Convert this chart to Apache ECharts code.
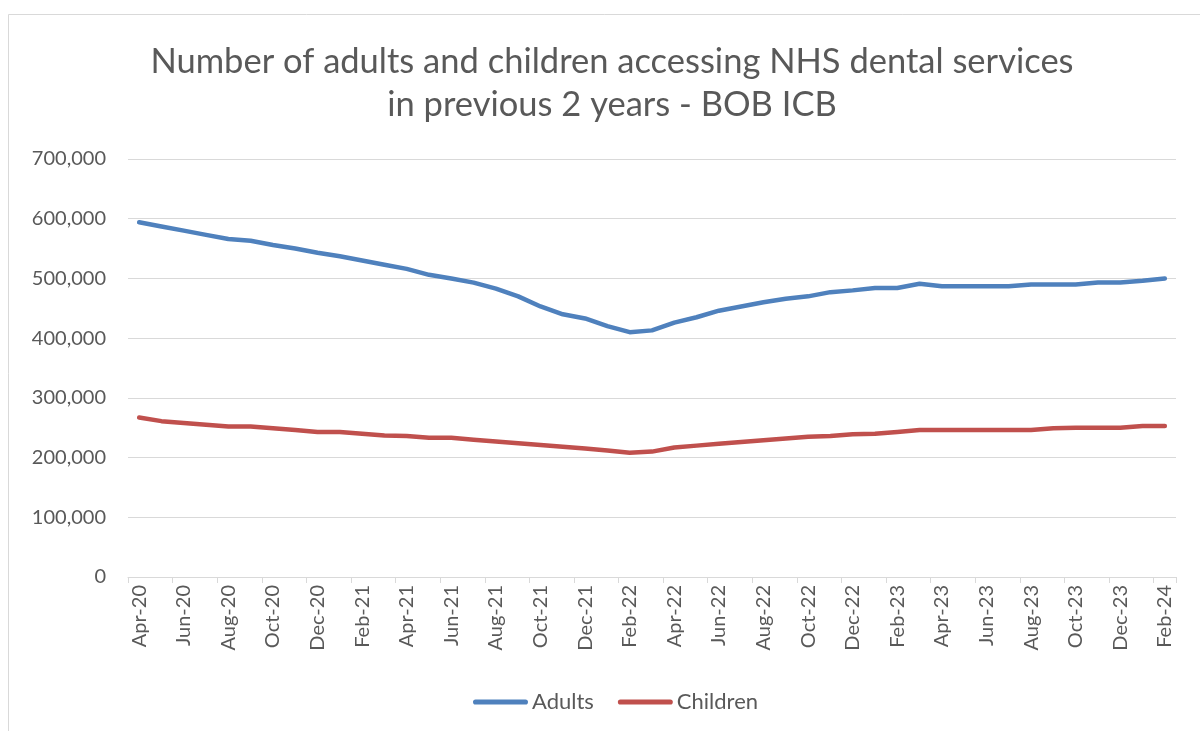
<!DOCTYPE html>
<html><head><meta charset="utf-8">
<script src="https://cdn.jsdelivr.net/npm/echarts@6/dist/echarts.min.js"></script>
<style>html,body{margin:0;padding:0;background:#fff}#c{width:1200px;height:731px}</style>
</head><body><div id="c"></div>
<script>
const months = ["Apr-20","May-20","Jun-20","Jul-20","Aug-20","Sep-20","Oct-20","Nov-20","Dec-20",
"Jan-21","Feb-21","Mar-21","Apr-21","May-21","Jun-21","Jul-21","Aug-21","Sep-21","Oct-21","Nov-21","Dec-21",
"Jan-22","Feb-22","Mar-22","Apr-22","May-22","Jun-22","Jul-22","Aug-22","Sep-22","Oct-22","Nov-22","Dec-22",
"Jan-23","Feb-23","Mar-23","Apr-23","May-23","Jun-23","Jul-23","Aug-23","Sep-23","Oct-23","Nov-23","Dec-23",
"Jan-24","Feb-24"];
const adults = [594000,587000,580000,573000,566000,563000,556000,550000,543000,
537000,530000,523000,516000,506000,500000,493000,483000,470000,453000,440000,433000,
420000,410000,413000,426000,435000,446000,453000,460000,466000,470000,477000,480000,
484000,484000,491000,487000,487000,487000,487000,490000,490000,490000,493000,493000,
496000,500000];
const children = [267000,261000,258000,255000,252000,252000,249000,246000,243000,
243000,240000,237000,236000,233000,233000,230000,227000,224000,221000,218000,215000,
212000,208000,210000,217000,220000,223000,226000,229000,232000,235000,236000,239000,
240000,243000,246000,246000,246000,246000,246000,246000,249000,250000,250000,250000,
253000,253000];
const titleText = "Number of adults and children accessing NHS dental services\nin previous 2 years - BOB ICB";
const FONT = "Lato";
const chart = echarts.init(document.getElementById('c'));
chart.setOption({
  animation:false,
  backgroundColor:'#fff',
  graphic:[
    {type:'rect',shape:{x:8.5,y:14.5,width:1200,height:730},style:{fill:'none',stroke:'#d9d9d9',lineWidth:1}},
    {type:'text',x:612,y:40,style:{text:titleText,align:'center',verticalAlign:'top',
      fontFamily:FONT,fontSize:34.5,fill:'#595959',lineHeight:43}}
  ],
  legend:{bottom:13,left:468,itemWidth:55,itemHeight:12,itemGap:24,
    icon:'path://M3,3.5 L52,3.5 A2.5,2.5 0 0 1 52,8.5 L3,8.5 A2.5,2.5 0 0 1 3,3.5 Z',
    textStyle:{fontFamily:FONT,fontSize:22,color:'#595959',padding:[0,0,0,-1]},
    data:[{name:'Adults'},{name:'Children'}]},
  grid:{left:128,right:24,top:159,bottom:154,containLabel:false},
  xAxis:{type:'category',data:months,boundaryGap:true,
    axisLine:{lineStyle:{color:'#d9d9d9',width:1}},
    axisTick:{show:true,interval:1,length:6,lineStyle:{color:'#d9d9d9'}},
    axisLabel:{interval:1,rotate:90,margin:8,fontFamily:FONT,fontSize:20,color:'#595959'}},
  yAxis:{type:'value',min:0,max:700000,interval:100000,
    axisLine:{show:false},axisTick:{show:false},
    splitLine:{lineStyle:{color:'#d9d9d9',width:1}},
    axisLabel:{margin:22,fontFamily:FONT,fontSize:20,color:'#595959',
      formatter:v=>v.toLocaleString('en-US')}},
  series:[
    {name:'Adults',type:'line',data:adults,showSymbol:false,symbol:'none',
      lineStyle:{color:'#4F81BD',width:4.5,cap:'round',join:'round'},itemStyle:{color:'#4F81BD'}},
    {name:'Children',type:'line',data:children,showSymbol:false,symbol:'none',
      lineStyle:{color:'#C0504D',width:4.5,cap:'round',join:'round'},itemStyle:{color:'#C0504D'}}
  ]
});
</script></body></html>
